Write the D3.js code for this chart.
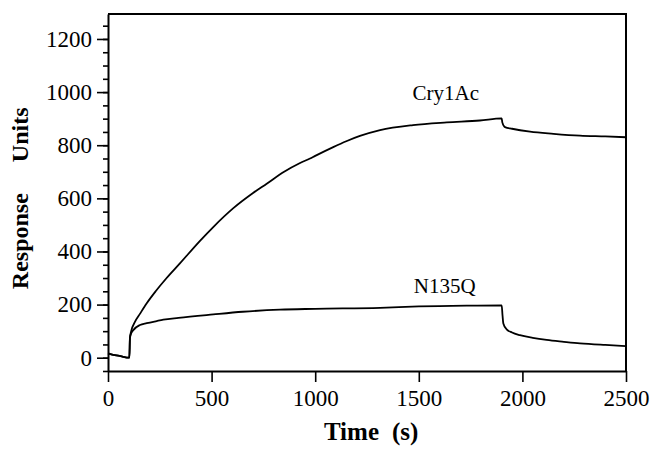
<!DOCTYPE html>
<html>
<head>
<meta charset="utf-8">
<script src="https://cdn.jsdelivr.net/npm/d3@7"></script>
<style>
  body { margin: 0; background: #fff; }
  svg { display: block; }
</style>
</head>
<body>
<div id="chart"></div>
<script>
// sensorgram values (time in s, response in RU)
const cryTime = [0, 20, 60, 103, 106, 112, 130, 154, 187, 230, 283, 347, 444, 508, 605, 700, 766, 850, 927, 975, 1000, 1087, 1150, 1216, 1313, 1472, 1635, 1795, 1900, 1903, 1916, 1950, 2037, 2150, 2278, 2400, 2500]
const cryValue = [16, 12, 6, 0, 75, 100, 135, 165, 205, 250, 300, 355, 440, 492, 563, 620, 655, 700, 733, 750, 760, 793, 815, 835, 857, 876, 886, 893, 901, 886, 868, 862, 851, 843, 836, 833, 830]

const nTime = [0, 20, 60, 103, 106, 112, 122, 154, 187, 235, 267, 340, 508, 650, 830, 1000, 1313, 1500, 1731, 1900, 1904, 1908, 1924, 1950, 1988, 2050, 2117, 2200, 2278, 2400, 2500]
const nValue = [16, 12, 6, 0, 75, 92, 104, 123, 130, 138, 143, 150, 163, 173, 181, 184, 188, 193, 196, 197, 160, 129, 107, 95, 85, 75, 67, 60, 54, 48, 44]

const seriesNames = ['Cry1Ac', 'N135Q']
const seriesLabelAt = [[1630, 970], [1625, 244]]

const xTicks = [0, 500, 1000, 1500, 2000, 2500]
const yTicks = [0, 200, 400, 600, 800, 1000, 1200]
const yMinorTicks = d3.range(-50, 1251, 50)

const width = 651
const height = 450
const marginLeft = 108
const marginTop = 14
const coreWidth = 518
const coreHeight = 357
const serif = '"Liberation Serif", "Times New Roman", Times, serif'

const svg = d3.select('#chart')
  .append('svg')
  .attr('width', width)
  .attr('height', height)
  .attr('viewBox', `0 0 ${width} ${height}`)

const x = d3.scaleLinear().domain([0, 2500]).range([marginLeft, marginLeft + coreWidth])
const y = d3.scaleLinear().domain([-50, 1294]).range([marginTop + coreHeight, marginTop])

// minor ticks on y
svg.append('g')
  .attr('transform', `translate(${marginLeft},0)`)
  .call(d3.axisLeft(y).tickValues(yMinorTicks).tickSize(5).tickSizeOuter(0).tickFormat(''))
  .call(g => g.select('.domain').remove())
  .call(g => g.selectAll('line').attr('stroke', '#000').attr('stroke-width', 1.6))

// major y axis
svg.append('g')
  .attr('transform', `translate(${marginLeft},0)`)
  .call(d3.axisLeft(y).tickValues(yTicks).tickSize(11).tickSizeOuter(0).tickPadding(5).tickFormat(d3.format('d')))
  .call(g => g.select('.domain').attr('stroke-width', 2))
  .call(g => g.selectAll('line').attr('stroke', '#000').attr('stroke-width', 1.6))
  .call(g => g.selectAll('text')
    .attr('font-family', serif)
    .attr('font-size', 23)
    .attr('fill', '#000'))

// x axis
svg.append('g')
  .attr('transform', `translate(0,${y(-50)})`)
  .call(d3.axisBottom(x).tickValues(xTicks).tickSize(11).tickSizeOuter(0).tickPadding(8).tickFormat(d3.format('d')))
  .call(g => g.select('.domain').attr('stroke-width', 2))
  .call(g => g.selectAll('line').attr('stroke', '#000').attr('stroke-width', 1.6))
  .call(g => g.selectAll('text')
    .attr('font-family', serif)
    .attr('font-size', 23)
    .attr('fill', '#000'))

// frame top and right
svg.append('path')
  .attr('d', `M${x(0)},${y(1294)}H${x(2500)}V${y(-50)}`)
  .attr('fill', 'none')
  .attr('stroke', '#000')
  .attr('stroke-width', 2)

const line = d3.line()
  .x(d => x(d[0]))
  .y(d => y(d[1]))
  .curve(d3.curveMonotoneX)

const series = [
  cryTime.map((t, i) => [t, cryValue[i]]),
  nTime.map((t, i) => [t, nValue[i]]),
]

svg.append('g')
  .selectAll('path')
  .data(series)
  .join('path')
  .attr('d', line)
  .attr('fill', 'none')
  .attr('stroke', '#000')
  .attr('stroke-width', 1.8)

svg.append('g')
  .selectAll('text')
  .data(seriesNames)
  .join('text')
  .attr('x', (d, i) => x(seriesLabelAt[i][0]))
  .attr('y', (d, i) => y(seriesLabelAt[i][1]))
  .attr('text-anchor', 'middle')
  .attr('font-family', serif)
  .attr('font-size', 21)
  .text(d => d)

// axis titles
const yTitle = svg.append('text')
  .attr('transform', `translate(28,${y(600)}) rotate(-90)`)
  .attr('text-anchor', 'middle')
  .attr('font-family', serif)
  .attr('font-weight', 'bold')
  .attr('font-size', 24)
yTitle.append('tspan').text('Response')
yTitle.append('tspan').attr('dx', 31).text('Units')

const xTitle = svg.append('text')
  .attr('x', x(1270))
  .attr('y', 440)
  .attr('text-anchor', 'middle')
  .attr('font-family', serif)
  .attr('font-weight', 'bold')
  .attr('font-size', 25)
xTitle.append('tspan').text('Time')
xTitle.append('tspan').attr('dx', 13).text('(s)')
</script>
</body>
</html>
